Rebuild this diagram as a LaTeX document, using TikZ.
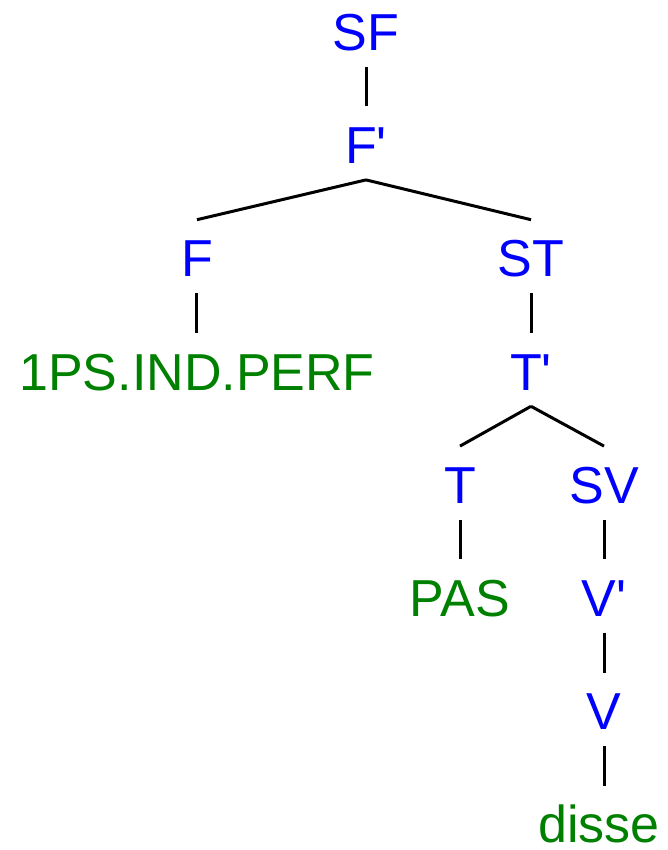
\documentclass[tikz,border=0pt]{standalone}
\usepackage{fontspec}
\setmainfont{Liberation Sans}
\usepackage{tikz}
\usetikzlibrary{positioning}
\tikzstyle{cat} = [text=catblue, inner sep=0pt, text height=37pt, text depth=0pt, font=\fontsize{52}{60}\selectfont]
\tikzstyle{word} = [cat, text=wordgreen]
\tikzstyle{edge} = [line width=3pt, black]
\definecolor{catblue}{RGB}{0,0,255}
\definecolor{wordgreen}{RGB}{0,128,0}
\newcommand{\branch}[2]{\draw[edge] ([yshift=-16pt]#1.south) -- ([yshift=20pt]#2.north);}
\newcommand{\barcat}[1]{#1\textquotesingle}

\begin{document}
\begin{tikzpicture}[node distance=113.2pt]
\useasboundingbox (-366pt,32pt) rectangle (301pt,-818pt);
\node (sf) [cat] {SF};
\node (fbar) [cat, below of=sf] {\barcat{F}};
\node (f) [cat, below of=fbar, xshift=-169pt] {F};
\node (st) [cat, below of=fbar, xshift=165pt] {ST};
\node (ppf) [word, below of=f] {1PS.IND.PERF};
\node (tbar) [cat, below of=st] {\barcat{T}};
\node (t) [cat, below of=tbar, xshift=-71pt] {T};
\node (sv) [cat, below of=tbar, xshift=73pt] {SV};
\node (pas) [word, below of=t] {PAS};
\node (vbar) [cat, below of=sv] {\barcat{V}};
\node (v) [cat, below of=vbar] {V};
\node (disse) [word, below of=v, xshift=-5pt] {disse};
\branch{sf}{fbar}
\branch{fbar}{f}
\branch{fbar}{st}
\branch{f}{ppf}
\branch{st}{tbar}
\branch{tbar}{t}
\branch{tbar}{sv}
\branch{t}{pas}
\branch{sv}{vbar}
\branch{vbar}{v}
\draw[edge] ([yshift=-16pt]v.south) -- ([yshift=20pt]v.south |- disse.north);
\end{tikzpicture}
\end{document}
